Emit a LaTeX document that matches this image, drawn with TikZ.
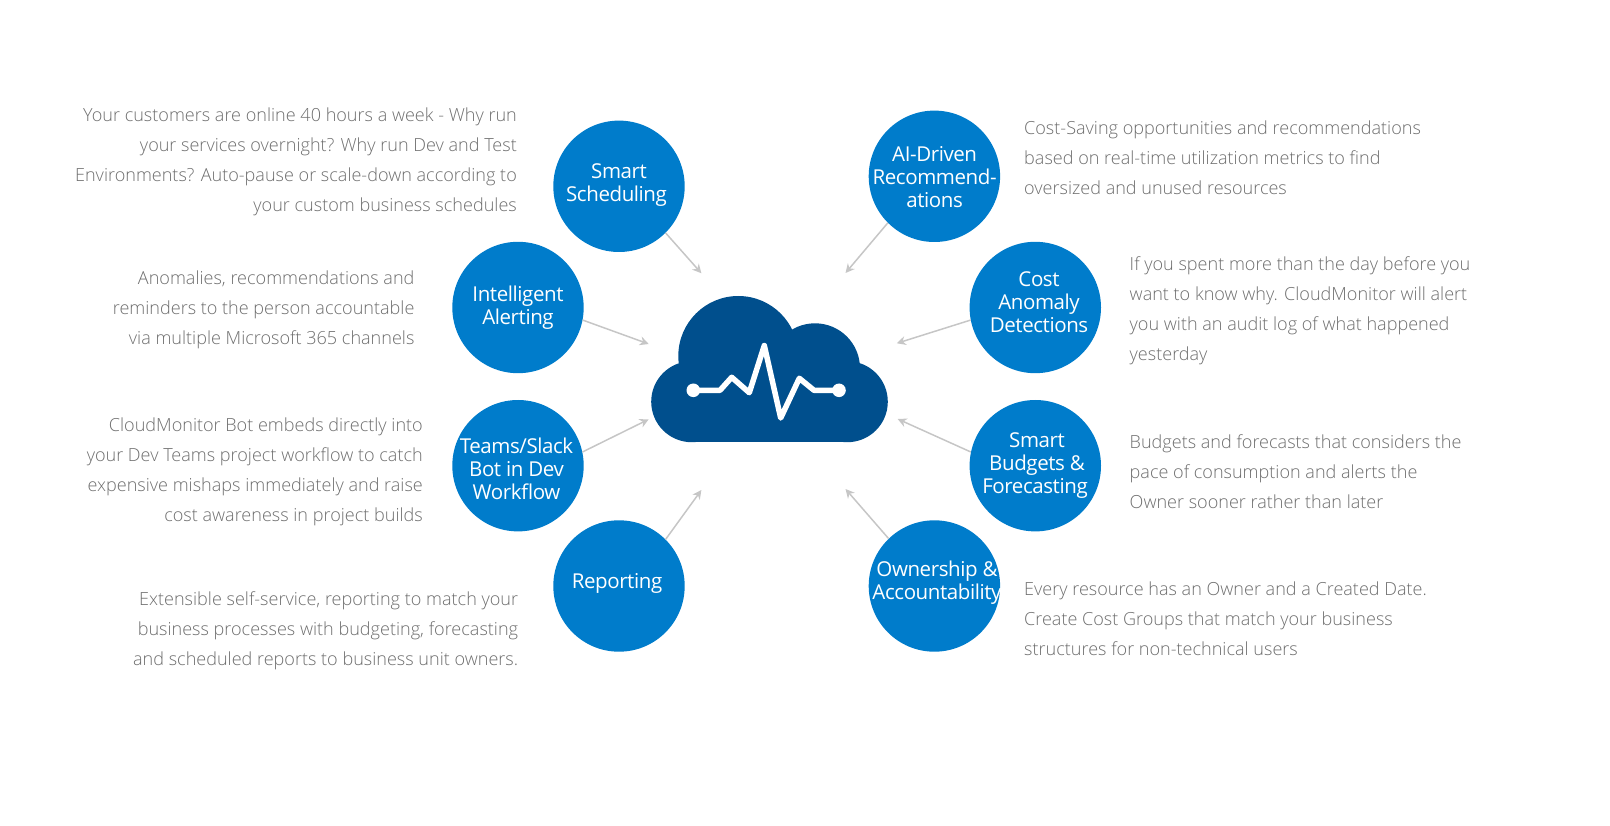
\documentclass[tikz,border=0pt]{standalone}
\usepackage{fontspec}
\setmainfont{Open Sans}
\newfontfamily\lightfont{Open Sans Light}
\newfontfamily\bubblefont{Open Sans}[LetterSpace=-2]
\usetikzlibrary{arrows.meta}
\definecolor{bubblecol}{HTML}{007CCB}
\definecolor{cloudcol}{HTML}{004F8D}
\definecolor{arrowcol}{HTML}{C6C6C6}
\definecolor{desccol}{HTML}{6E6E6E}
\tikzset{
  bubble/.style={circle,fill=bubblecol,draw=none,inner sep=0pt,minimum size=131.4pt},
  bubbletext/.style={text=white,align=center,inner sep=0pt,font=\bubblefont\fontsize{20.5}{23}\selectfont},
  desc/.style={text=desccol,inner sep=0pt,font=\lightfont\fontsize{18.05}{30}\selectfont},
  descl/.style={desc,align=left,anchor=north west},
  descr/.style={desc,align=right,anchor=north east},
  feed/.style={draw=arrowcol,line width=1.5pt,-{Stealth[length=9pt,width=9pt]}},
  pulse/.style={draw=white,line width=5.5pt,line join=round,line cap=round}
}
\begin{document}
\begin{tikzpicture}[x=1pt,y=-1pt]
\useasboundingbox (0,0) rectangle (1610,826);
% cloud
\fill[cloudcol] (691.7,401.7) circle[radius=40.5];
\fill[cloudcol] (847.3,401.7) circle[radius=40.5];
\fill[cloudcol] (738.3,356) circle[radius=60];
\fill[cloudcol] (815,368.3) circle[radius=45];
\fill[cloudcol] (691.7,441.7) rectangle (847.3,380);
\fill[cloudcol] (720,400) rectangle (830,340);
\draw[pulse] (693.3,390.3) -- (720,390.3) -- (731.7,377.3) -- (749.3,392.7) -- (764.3,345.5) -- (780.7,418) -- (799.3,378.3) -- (814,390.3) -- (839,390.3);
\fill[white] (693.3,390.3) circle[radius=6.8];
\fill[white] (839,390.3) circle[radius=6.8];
% bubbles
\node[bubble] (smart) at (619,186.3) {};
\node[bubble] (alert) at (518,307.5) {};
\node[bubble] (teams) at (518,465.7) {};
\node[bubble] (report) at (619,586) {};
\node[bubble] (ai) at (934.4,176.3) {};
\node[bubble] (anomaly) at (1035.3,307.5) {};
\node[bubble] (budget) at (1035.3,465.7) {};
\node[bubble] (owner) at (934.4,586) {};
% bubble labels
\node[bubbletext] (smartt) at (619,185.5) {Smart\\Scheduling\hspace*{5pt}};
\node[bubbletext] (alertt) at (518,308) {Intelligent\\Alerting};
\node[bubbletext] (teamst) at (516.5,469) {Teams/Slack\\Bot in Dev\\Workflow};
\node[bubbletext] (reportt) at (617,583) {Reporting};
\node[bubbletext] (ait) at (934.6,177) {AI-Driven\\Recommend-\\ations};
\node[bubbletext] (anomalyt) at (1039,302) {Cost\\Anomaly\\Detections};
\node[bubbletext] (budgett) at (1037,465.5) {Smart\\Budgets \&\\Forecasting\hspace*{4pt}};
\node[bubbletext] (ownert) at (937,582.5) {Ownership \&\\Accountability};
% arrow targets
\coordinate (smartend) at (701.4,273.3);
\coordinate (alertend) at (648.7,344);
\coordinate (teamsend) at (648.7,419.3);
\coordinate (reportend) at (701.4,490);
\coordinate (aiend) at (845.5,273);
\coordinate (anomalyend) at (896.8,343.3);
\coordinate (budgetend) at (897.7,419);
\coordinate (ownerend) at (845.5,489);
\draw[feed] (smart.-45.5) -- (smartend);
\draw[feed] (alert.-11) -- (alertend);
\draw[feed] (teams.12) -- (teamsend);
\draw[feed] (report.45.5) -- (reportend);
\draw[feed] (ai.225.6) -- (aiend);
\draw[feed] (anomaly.191) -- (anomalyend);
\draw[feed] (budget.168) -- (budgetend);
\draw[feed] (owner.134.5) -- (ownerend);
% descriptions
\node[descr] (d1) at (517,107.5) {Your customers are online 40 hours a week - Why run\\your services overnight? Why run Dev and Test\\Environments? Auto-pause or scale-down according to\\your custom business schedules};
\node[descr] (d2) at (414.6,270.5) {Anomalies, recommendations and\\reminders to the person accountable\\via multiple Microsoft 365 channels};
\node[descr] (d3) at (423,418) {CloudMonitor Bot embeds directly into\\your Dev Teams project workflow to catch\\expensive mishaps immediately and raise\\cost awareness in project builds};
\node[descr] (d4) at (518.3,591) {Extensible self-service, reporting to match your\\business processes with budgeting, forecasting\\and scheduled reports to business unit owners.};
\node[descl] (d5) at (1024,121) {Cost-Saving opportunities and recommendations\\based on real-time utilization metrics to find\\oversized and unused resources};
\node[descl] (d6) at (1129.5,256) {If you spent more than the day before you\\want to know why. CloudMonitor will alert\\you with an audit log of what happened\\yesterday};
\node[descl] (d7) at (1129.5,434.5) {Budgets and forecasts that considers the\\pace of consumption and alerts the\\Owner sooner rather than later};
\node[descl] (d8) at (1024,582) {Every resource has an Owner and a Created Date.\\Create Cost Groups that match your business\\structures for non-technical users};
\end{tikzpicture}
\end{document}
